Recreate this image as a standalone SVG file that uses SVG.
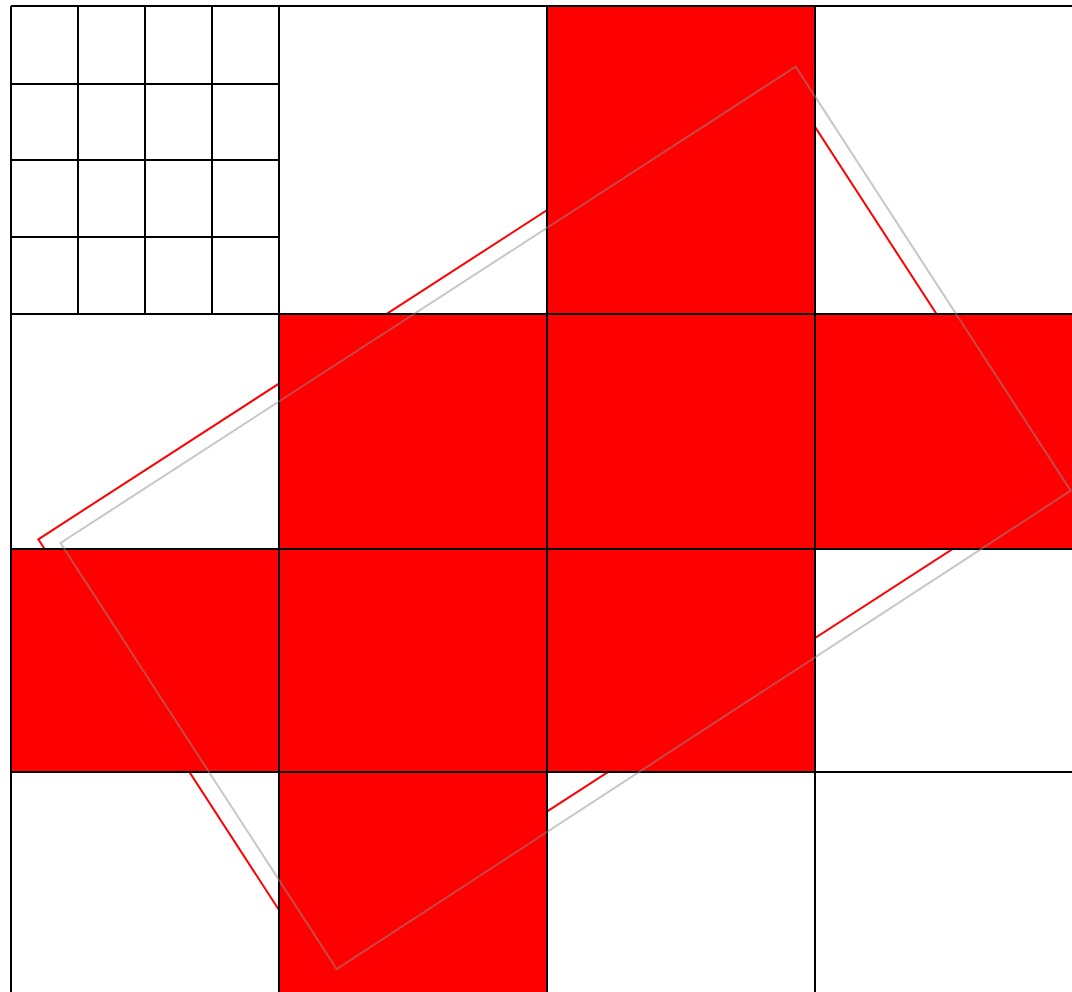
<svg xmlns="http://www.w3.org/2000/svg" width="1072" height="992" viewBox="0 0 1072 992">
<style>
.fill{fill:#ff0000;stroke:none}
.grid{stroke:#000;stroke-width:2;fill:none}
.redrect{fill:none;stroke:#ff0000;stroke-width:2}
.grayrect{fill:none;stroke:#909090;stroke-width:2;stroke-opacity:0.5}
</style>
<rect width="1072" height="992" fill="#fff"/>
<g id="fills">
<rect class="fill" x="547" y="6" width="268" height="308"/>
<rect class="fill" x="279" y="314" width="268" height="235"/>
<rect class="fill" x="547" y="314" width="268" height="235"/>
<rect class="fill" x="815" y="314" width="257" height="235"/>
<rect class="fill" x="11" y="549" width="268" height="223"/>
<rect class="fill" x="279" y="549" width="268" height="223"/>
<rect class="fill" x="547" y="549" width="268" height="223"/>
<rect class="fill" x="279" y="772" width="268" height="220"/>
</g>
<g id="red-rectangle">
<polygon class="redrect" points="38.3,539.3 773.8,63.4 1048.7,486.8 313.3,962.8"/>
</g>
<g id="grid">
<path class="grid" d="M11,6H1072M11,314H1072M11,549H1072M11,772H1072M11,6V992M279,6V992M547,6V992M815,6V992"/>
<path class="grid" d="M78,6V314M145,6V314M212,6V314M11,84H279M11,160H279M11,237H279"/>
</g>
<g id="gray-rectangle">
<polygon class="grayrect" points="60.5,543 795.7,66.7 1070.7,490.7 336.7,969"/>
</g>
</svg>
